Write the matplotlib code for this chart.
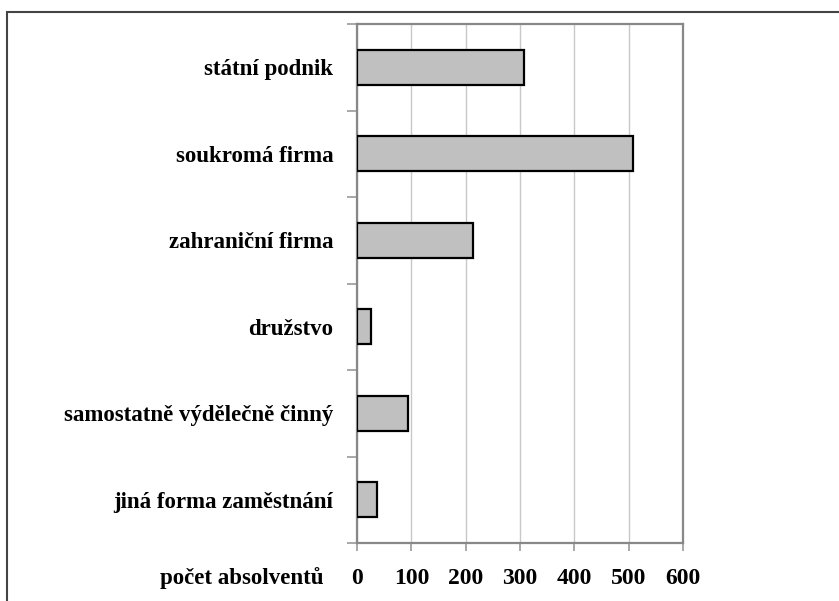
import matplotlib.pyplot as plt
import matplotlib.patches as patches
import numpy as np

kategorie = ["státní podnik", "soukromá firma", "zahraniční firma",
             "družstvo", "samostatně výdělečně činný", "jiná forma zaměstnání"]
pocty = [307, 508, 213, 26, 94, 36]
xticky = [0, 100, 200, 300, 400, 500, 600]

plt.rcParams['font.family'] = ['Liberation Serif', 'DejaVu Serif']
plt.rcParams['font.weight'] = 'bold'

fig = plt.figure(figsize=(8.39, 6.01), dpi=100)
ax = fig.add_axes([357/839, 1-543/601, (683-357)/839, (543-24)/601])

# ramecek kolem celeho grafu
fig.patches.append(patches.Rectangle((7/839, -0.1), 1.2, 1-12/601+0.1,
                                     transform=fig.transFigure, fill=False,
                                     edgecolor='#444444', linewidth=1.5))

y = np.arange(len(kategorie))
ax.barh(y, pocty, height=0.4, color='#c0c0c0', edgecolor='black', linewidth=1.6, zorder=3)

ax.set_xlim(0, 600)
ax.set_ylim(len(kategorie)-0.5, -0.5)
ax.set_xticks(xticky)
ax.set_xticklabels([str(v) for v in xticky], fontsize=17, fontweight='bold')
ax.xaxis.grid(True, color='#c8c8c8', linewidth=1, zorder=0)

ax.set_yticks(np.arange(len(kategorie)+1) - 0.5)
ax.set_yticklabels([])
ax.set_yticks(y, minor=True)
ax.set_yticklabels(kategorie, minor=True, fontsize=16.5, fontweight='bold')
ax.tick_params(axis='y', which='minor', length=0, pad=17)
ax.tick_params(axis='y', which='major', length=7, color='#999999', width=1.2)
ax.tick_params(axis='x', length=6, color='#999999', width=1.2, pad=12)

for s in ax.spines.values():
    s.set_color('#888888')
    s.set_linewidth(1.6)

fig.text(323/839, 1-578/601, "počet absolventů", ha='right', va='center',
         fontsize=16.5, fontweight='bold')

fig.savefig("out.png", dpi=100)
